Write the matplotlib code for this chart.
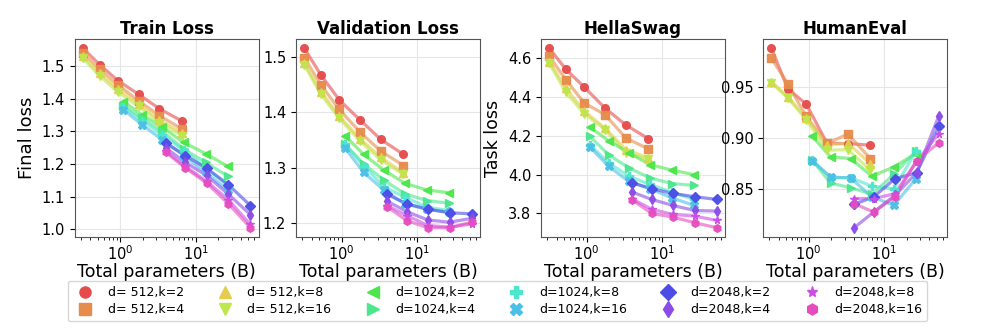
import colorsys
import numpy as np
import matplotlib
matplotlib.use('Agg')
import matplotlib.pyplot as plt
from matplotlib.lines import Line2D
from matplotlib.ticker import MultipleLocator, FormatStrFormatter

# model sizes (B params) per hidden dim
x512 = [0.32, 0.53, 0.93, 1.75, 3.3, 6.6]
x1024 = [1.1, 1.95, 3.6, 6.9, 13.5, 26.5]
x2048 = [4.0, 7.3, 13.9, 27, 53]

dims = [512, 512, 512, 512, 1024, 1024, 1024, 1024, 2048, 2048, 2048, 2048]
ks = [2, 4, 8, 16, 2, 4, 8, 16, 2, 4, 8, 16]
markers = ['o', 's', '^', 'v', '<', '>', 'P', 'X', 'D', 'd', '*', 'h']

train_loss = [
    [1.554, 1.504, 1.455, 1.413, 1.369, 1.331],
    [1.539, 1.490, 1.442, 1.393, 1.348, 1.307],
    [1.530, 1.478, 1.430, 1.385, 1.335, 1.295],
    [1.523, 1.470, 1.420, 1.376, 1.327, 1.287],
    [1.391, 1.350, 1.313, 1.266, 1.232, 1.193],
    [1.378, 1.340, 1.300, 1.246, 1.205, 1.163],
    [1.374, 1.333, 1.289, 1.242, 1.189, 1.134],
    [1.366, 1.320, 1.274, 1.226, 1.175, 1.120],
    [1.264, 1.226, 1.187, 1.137, 1.073],
    [1.249, 1.205, 1.165, 1.108, 1.045],
    [1.239, 1.193, 1.147, 1.091, 1.015],
    [1.236, 1.188, 1.142, 1.079, 1.005],
]

val_loss = [
    [1.515, 1.467, 1.422, 1.386, 1.351, 1.324],
    [1.498, 1.449, 1.405, 1.364, 1.330, 1.304],
    [1.488, 1.437, 1.393, 1.352, 1.319, 1.290],
    [1.485, 1.432, 1.389, 1.348, 1.314, 1.288],
    [1.358, 1.324, 1.296, 1.272, 1.260, 1.255],
    [1.343, 1.307, 1.278, 1.253, 1.241, 1.236],
    [1.342, 1.304, 1.266, 1.247, 1.229, 1.223],
    [1.336, 1.292, 1.260, 1.235, 1.226, 1.220],
    [1.252, 1.235, 1.225, 1.219, 1.217],
    [1.240, 1.221, 1.206, 1.202, 1.209],
    [1.232, 1.214, 1.196, 1.193, 1.199],
    [1.230, 1.205, 1.192, 1.192, 1.202],
]

hellaswag = [
    [4.651, 4.543, 4.451, 4.343, 4.256, 4.185],
    [4.609, 4.489, 4.369, 4.309, 4.189, 4.132],
    [4.583, 4.446, 4.326, 4.240, 4.129, 4.086],
    [4.574, 4.424, 4.314, 4.232, 4.112, 4.078],
    [4.245, 4.175, 4.112, 4.052, 4.023, 4.000],
    [4.197, 4.103, 4.035, 3.983, 3.954, 3.944],
    [4.155, 4.060, 3.992, 3.949, 3.910, 3.872],
    [4.143, 4.043, 3.966, 3.927, 3.880, 3.841],
    [3.958, 3.927, 3.903, 3.886, 3.872],
    [3.910, 3.872, 3.841, 3.815, 3.812],
    [3.875, 3.821, 3.795, 3.786, 3.764],
    [3.870, 3.800, 3.781, 3.752, 3.726],
]

humaneval = [
    [0.9875, 0.948, 0.933, 0.895, 0.8946, 0.893],
    [0.978, 0.9526, 0.921, 0.895, 0.9037, 0.880],
    [0.955, 0.940, 0.920, 0.893, 0.895, 0.875],
    [0.954, 0.939, 0.918, 0.888, 0.8888, 0.8685],
    [0.902, 0.8816, 0.880, 0.8627, 0.8718, 0.8849],
    [0.879, 0.856, 0.8516, 0.845, 0.8647, 0.887],
    [0.879, 0.8614, 0.8614, 0.853, 0.8505, 0.887],
    [0.878, 0.862, 0.861, 0.8426, 0.8344, 0.8604],
    [0.8353, 0.8426, 0.8604, 0.866, 0.9116],
    [0.8125, 0.8278, 0.8441, 0.866, 0.9214],
    [0.841, 0.841, 0.8457, 0.877, 0.9044],
    [0.836, 0.8278, 0.8425, 0.878, 0.8953],
]

titles = ['Train Loss', 'Validation Loss', 'HellaSwag', 'HumanEval']
metrics = [train_loss, val_loss, hellaswag, humaneval]
ysteps = [0.1, 0.1, 0.2, 0.05]

hues = [0, 25, 50, 75, 120, 145, 170, 195, 240, 265, 290, 315]
colors = [colorsys.hls_to_rgb(h / 360, 0.6, 0.75) for h in hues]
xs = {512: x512, 1024: x1024, 2048: x2048}

fig = plt.figure(figsize=(9.97, 3.32), dpi=100)
lefts = [0.0749, 0.2969, 0.5426, 0.7653]
axes = [fig.add_axes([l, 0.287, 0.1846, 0.5945]) for l in lefts]

for ax, title, data, step in zip(axes, titles, metrics, ysteps):
    for i in range(12):
        x = xs[dims[i]]
        ax.plot(x, data[i], color=colors[i], lw=2.3, alpha=0.6, zorder=2)
        ax.plot(x, data[i], color=colors[i], marker=markers[i], ms=5.5,
                linestyle='None', alpha=0.95, zorder=3)
    ax.set_xscale('log')
    ax.yaxis.set_major_locator(MultipleLocator(step))
    ax.set_title(title, fontsize=12, fontweight='bold', pad=4)
    ax.set_xlabel('Total parameters (B)', fontsize=12.5, labelpad=0)
    ax.grid(True, color='#e6e6e6', lw=0.8)
    ax.set_axisbelow(True)
    ax.tick_params(labelsize=10.5)
    ax.tick_params(axis='x', pad=2)
    for s in ax.spines.values():
        s.set_color('#555555')

axes[0].set_ylabel('Final loss', fontsize=13)
axes[2].set_ylabel('Task loss', fontsize=12.5)
axes[3].yaxis.set_major_formatter(FormatStrFormatter('%.2f'))

handles = [Line2D([], [], color=colors[i], marker=markers[i], linestyle='None',
                  markersize=8, label=f'd={dims[i]:4d},k={ks[i]}')
           for i in range(12)]
fig.legend(handles=handles, loc='center', bbox_to_anchor=(0.499, 0.093),
           ncol=6, fontsize=9, columnspacing=2.3, handletextpad=0.8,
           labelspacing=0.35, frameon=True, edgecolor='#cccccc')

fig.savefig('out.png', dpi=100)
